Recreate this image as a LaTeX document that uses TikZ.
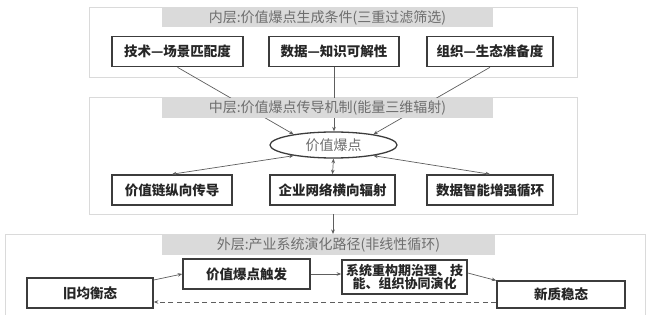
\documentclass[tikz,border=0pt]{standalone}
\usepackage{fontspec}
\usepackage{tikz}
\usetikzlibrary{shapes.geometric,arrows.meta}
\usepackage{xcolor}
\newfontfamily\cjk{Noto Sans CJK SC}
\definecolor{skgray}{HTML}{3C3C3C}
\definecolor{lygray}{HTML}{DADADA}
\definecolor{ttgray}{HTML}{6E6E6E}
\definecolor{argray}{HTML}{5E5E5E}
\tikzset{
  layer/.style={draw=lygray, line width=0.8pt, fill=white, inner sep=0pt},
  titlebar/.style={fill=lygray, inner sep=0pt, minimum height=19pt, minimum width=331pt, text=ttgray, font=\cjk\fontsize{14}{15}\selectfont},
  cbox/.style={draw=skgray, line width=1.6pt, fill=white, inner sep=0pt, minimum height=30pt, text=black!85, align=center, font=\cjk\bfseries\fontsize{13.5}{14}\selectfont},
  hub/.style={ellipse, draw=skgray, line width=1.3pt, fill=white, inner sep=0pt, minimum width=127pt, minimum height=26pt, text=ttgray, font=\cjk\fontsize{14}{15}\selectfont},
  flow/.style={-{Stealth[length=4.5pt, width=3.6pt]}, line width=0.7pt, draw=argray},
  twoway/.style={{Stealth[length=4.5pt, width=3.6pt]}-{Stealth[length=4.5pt, width=3.6pt]}, line width=0.7pt, draw=argray},
  back/.style={flow, dash pattern=on 5pt off 3.5pt},
}

\begin{document}
\begin{tikzpicture}[x=1pt, y=-1pt]
  \useasboundingbox[fill=white] (0,0) rectangle (648,315);
  % Ebenen
  \node[layer, minimum width=488pt, minimum height=70pt] (innerL) at (333,42) {};
  \node[layer, minimum width=488pt, minimum height=117pt] (midL) at (333,155.5) {};
  \draw[lygray, line width=0.8pt] (5,320) -- (5,234) -- (645,234) -- (645,320);
  \coordinate (outerTop) at (333,234);
  % innen: drei Filter
  \node[cbox, minimum width=131pt] (tech) at (177.5,51.5) {技术—场景匹配度};
  \node[cbox, minimum width=130pt] (data) at (334,51.5) {数据—知识可解性};
  \node[cbox, minimum width=126pt] (org) at (490,51.5) {组织—生态准备度};
  % Mitte: Ausstrahlung
  \node[hub] (burst) at (333.5,145) {价值爆点};
  \node[cbox, minimum width=120pt] (chain) at (172,190) {价值链纵向传导};
  \node[cbox, minimum width=125pt] (net) at (332.5,190) {企业网络横向辐射};
  \node[cbox, minimum width=126pt] (loop) at (490,190) {数据智能增强循环};
  \draw[flow] (tech.south) -- (burst.165);
  \draw[flow] (data.south) -- (data.south |- burst.north);
  \draw[flow] (org.south) -- (burst.15);
  \draw[twoway] (burst.195) -- (chain.north);
  \draw[twoway] (burst.south) -- (net.north);
  \draw[twoway] (burst.-15) -- (loop.north);
  \draw[flow] (midL.south) -- (outerTop);
  % aussen: Pfad
  \node[cbox, minimum width=126pt] (old) at (90,293) {旧均衡态};
  \node[cbox, minimum width=127pt] (trigger) at (246.5,274) {价值爆点触发};
  \node[cbox, minimum width=125pt, minimum height=34pt, font=\cjk\bfseries\fontsize{13}{12.5}\selectfont] (rebuild) at (404.5,277) {系统重构期治理、技\\能、组织协同演化};
  \node[cbox, minimum width=128pt, minimum height=27pt] (new) at (561,294.5) {新质稳态};
  \draw[flow] ([yshift=13pt]old.east) -- (trigger.west);
  \draw[flow] (trigger.east) -- (trigger.east -| rebuild.west);
  \draw[flow] ([yshift=4pt]rebuild.east) -- ([yshift=14pt]new.west);
  \draw[back] ([yshift=-7.5pt]new.west) -- ([yshift=-7.5pt]new.west -| old.east);
  % Titelbalken
  \node[titlebar] (innerT) at (327.5,17.5) {内层:价值爆点生成条件(三重过滤筛选)};
  \node[titlebar, minimum height=20pt] (midT) at (327.5,108) {中层:价值爆点传导机制(能量三维辐射)};
  \node[titlebar, minimum height=20pt, minimum width=333pt] (outerT) at (328.5,245) {外层:产业系统演化路径(非线性循环)};
\end{tikzpicture}
\end{document}
